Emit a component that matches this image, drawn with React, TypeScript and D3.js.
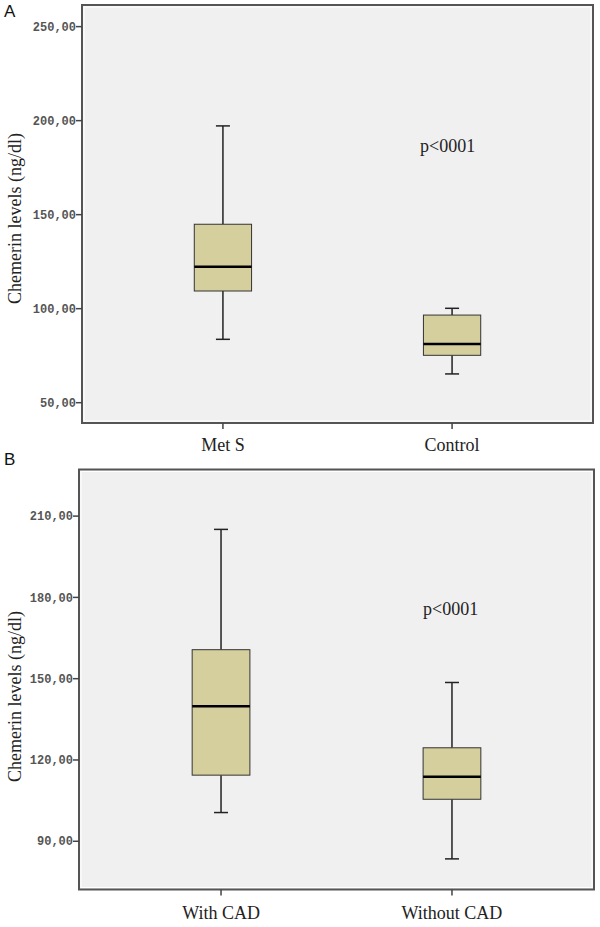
import React from "react";
import * as d3 from "d3";

// Panel A data
const catsA = ["Met S", "Control"];
const lowA = [83.7, 65.3];
const q1A = [109.4, 75.2];
const medA = [122.3, 81.2];
const q3A = [144.9, 96.6];
const highA = [197.2, 100.2];
const ticksA = [50, 100, 150, 200, 250];

// Panel B data
const catsB = ["With CAD", "Without CAD"];
const lowB = [100.6, 83.5];
const q1B = [114.4, 105.5];
const medB = [139.8, 113.8];
const q3B = [160.7, 124.5];
const highB = [205.1, 148.6];
const ticksB = [90, 120, 150, 180, 210];

const pText = "p<0001";
const yLabel = "Chemerin levels (ng/dl)";

const serif = "'Liberation Serif', 'Times New Roman', serif";
const mono = "'Liberation Mono', 'DejaVu Sans Mono', monospace";

type PanelProps = {
  letter: string;
  letterY: number;
  x0: number;
  x1: number;
  y0: number;
  y1: number;
  domain: [number, number];
  cats: string[];
  low: number[];
  q1: number[];
  med: number[];
  q3: number[];
  high: number[];
  ticks: number[];
  pX: number;
  pY: number;
  catLabelY: number;
  labelMid: number;
};

function Panel(p: PanelProps) {
  const y = d3.scaleLinear().domain(p.domain).range([p.y1, p.y0]);
  const x = d3.scalePoint<string>().domain(p.cats).range([p.x0, p.x1]).padding(0.615);
  const step = x.step();
  const boxW = step * 0.25;
  const capW = 14;
  const fmt = (v: number) => d3.format(".2f")(v).replace(".", ",");
  return (
    <g>
      <text x={4} y={p.letterY} fontFamily="'Liberation Sans', Arial, sans-serif" fontSize={17} fill="#111">
        {p.letter}
      </text>
      <rect x={p.x0} y={p.y0} width={p.x1 - p.x0} height={p.y1 - p.y0} fill="#f0f0f0" stroke="#555" strokeWidth={2} />
      <rect x={p.x0 + 2} y={p.y0 + 2} width={p.x1 - p.x0 - 4} height={p.y1 - p.y0 - 4} fill="none" stroke="#ffffff" strokeWidth={1} />
      {p.ticks.map((t) => (
        <g key={t}>
          <line x1={p.x0 - 6} x2={p.x0} y1={y(t)} y2={y(t)} stroke="#444" strokeWidth={1.5} />
          <text x={p.x0 - 6} y={y(t)} dy="0.35em" textAnchor="end" fontFamily={mono} fontWeight="bold" fontSize={12} fill="#555">
            {fmt(t)}
          </text>
        </g>
      ))}
      <text
        transform={`translate(15,${p.labelMid}) rotate(-90)`}
        textAnchor="middle"
        dominantBaseline="central"
        fontFamily={serif}
        fontSize={18}
        fill="#222"
      >
        {yLabel}
      </text>
      {p.cats.map((c, i) => {
        const cx = x(c) as number;
        return (
          <g key={c}>
            <line x1={cx} x2={cx} y1={p.y1} y2={p.y1 + 6} stroke="#444" strokeWidth={1.5} />
            <text x={cx} y={p.catLabelY} textAnchor="middle" fontFamily={serif} fontSize={18} fill="#222">
              {c}
            </text>
            <line x1={cx} x2={cx} y1={y(p.high[i])} y2={y(p.q3[i])} stroke="#222" strokeWidth={1.5} />
            <line x1={cx} x2={cx} y1={y(p.q1[i])} y2={y(p.low[i])} stroke="#222" strokeWidth={1.5} />
            <line x1={cx - capW / 2} x2={cx + capW / 2} y1={y(p.high[i])} y2={y(p.high[i])} stroke="#222" strokeWidth={1.5} />
            <line x1={cx - capW / 2} x2={cx + capW / 2} y1={y(p.low[i])} y2={y(p.low[i])} stroke="#222" strokeWidth={1.5} />
            <rect
              x={cx - boxW / 2}
              y={y(p.q3[i])}
              width={boxW}
              height={y(p.q1[i]) - y(p.q3[i])}
              fill="#d4cf9c"
              stroke="#333"
              strokeWidth={1}
            />
            <line x1={cx - boxW / 2} x2={cx + boxW / 2} y1={y(p.med[i])} y2={y(p.med[i])} stroke="#000" strokeWidth={2.5} />
          </g>
        );
      })}
      <text x={p.pX} y={p.pY} fontFamily={serif} fontSize={18} fill="#222">
        {pText}
      </text>
    </g>
  );
}

export default function App() {
  return (
    <svg width={600} height={927} style={{ position: "absolute", left: 0, top: 0, background: "#fff" }}>
      <Panel
        letter="A"
        letterY={17}
        x0={82}
        x1={593}
        y0={5}
        y1={423}
        domain={[39.2, 261.5]}
        cats={catsA}
        low={lowA}
        q1={q1A}
        med={medA}
        q3={q3A}
        high={highA}
        ticks={ticksA}
        pX={420}
        pY={152}
        catLabelY={451}
        labelMid={218.5}
      />
      <Panel
        letter="B"
        letterY={465}
        x0={79}
        x1={594}
        y0={469.5}
        y1={889.5}
        domain={[72.2, 227.2]}
        cats={catsB}
        low={lowB}
        q1={q1B}
        med={medB}
        q3={q3B}
        high={highB}
        ticks={ticksB}
        pX={423}
        pY={615}
        catLabelY={919}
        labelMid={696.5}
      />
    </svg>
  );
}
